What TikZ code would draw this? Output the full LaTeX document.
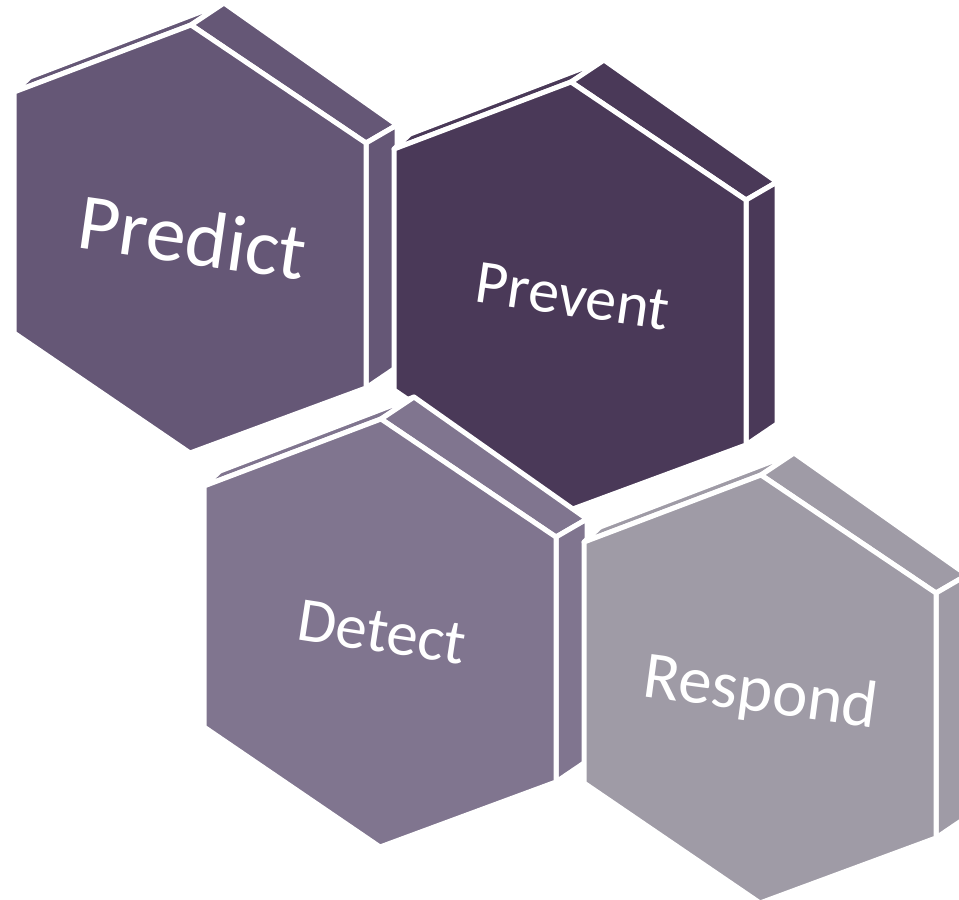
\documentclass[tikz,border=0pt]{standalone}
\usepackage{fontspec}
\setmainfont{Carlito}
\definecolor{cpredict}{HTML}{655776}
\definecolor{cprevent}{HTML}{4A3958}
\definecolor{cdetect}{HTML}{80758F}
\definecolor{crespond}{HTML}{9F9BA6}
\newcommand\drawhexblock[3]{%
  \begin{scope}[shift={(#1,#2)}]
    \filldraw[face,fill=#3] (14,92) -- (191,25) -- (224,3) -- (30,77) -- cycle;
    \filldraw[face,fill=#3] (191,25) -- (224,3) -- (397,125) -- (366,143) -- cycle;
    \filldraw[face,fill=#3] (366,143) -- (397,125) -- (397,367) -- (366,388) -- cycle;
    \filldraw[face,fill=#3] (191,25) -- (14,92) -- (14,333) -- (190,453) -- (366,388) -- (366,143) -- cycle;
  \end{scope}}
\begin{document}
\begin{tikzpicture}[x=1pt,y=-1pt,
  face/.style={line width=5pt, draw=white, line join=round},
  lbl/.style={text=white, anchor=base, inner sep=0pt}]
\useasboundingbox (0,0) rectangle (959,900);
\clip (0,0) rectangle (959,900);
\drawhexblock{0}{0}{cpredict}
\drawhexblock{380}{57}{cprevent}
\drawhexblock{190}{394}{cdetect}
\drawhexblock{570}{450}{crespond}
\node[lbl, rotate=-8.1, font=\fontsize{80}{88}\selectfont] (predict) at (189,264) {Predict};
\node[lbl, rotate=-8.3, font=\fontsize{62}{70}\selectfont] (prevent) at (570,316) {Prevent};
\node[lbl, rotate=-8.7, font=\fontsize{63}{70}\selectfont] (detect) at (379,652) {Detect};
\node[lbl, rotate=-7.7, font=\fontsize{67}{75}\selectfont] (respond) at (758,712) {Respond};
\end{tikzpicture}
\end{document}
